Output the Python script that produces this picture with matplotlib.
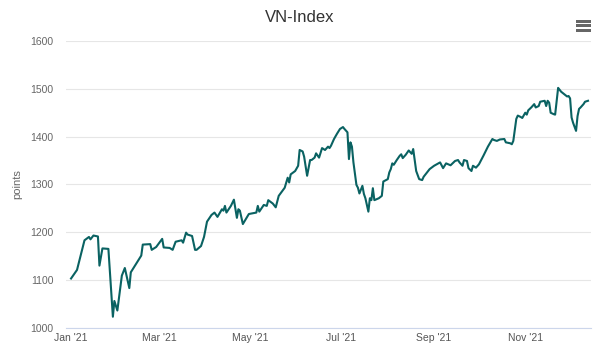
import matplotlib.pyplot as plt
import matplotlib.dates as mdates
import pandas as pd
from matplotlib.patches import Rectangle

plt.rcParams['font.family'] = ['Liberation Sans', 'DejaVu Sans']

# VN-Index closes (approximate)
dates = [
    "2021-01-01", "2021-01-05", "2021-01-10", "2021-01-13", "2021-01-14", "2021-01-16",
    "2021-01-19", "2021-01-20", "2021-01-22", "2021-01-26", "2021-01-29", "2021-01-30",
    "2021-02-01", "2021-02-04", "2021-02-06", "2021-02-09", "2021-02-10", "2021-02-17",
    "2021-02-18", "2021-02-23", "2021-02-24", "2021-02-27", "2021-03-03", "2021-03-04",
    "2021-03-08", "2021-03-10", "2021-03-12", "2021-03-16", "2021-03-17", "2021-03-19",
    "2021-03-20", "2021-03-23", "2021-03-25", "2021-03-26", "2021-03-29", "2021-03-31",
    "2021-04-02", "2021-04-05", "2021-04-07", "2021-04-09", "2021-04-12", "2021-04-13",
    "2021-04-14", "2021-04-15", "2021-04-18", "2021-04-20", "2021-04-22", "2021-04-23",
    "2021-04-24", "2021-04-26", "2021-04-30", "2021-05-05", "2021-05-06", "2021-05-07",
    "2021-05-10", "2021-05-12", "2021-05-13", "2021-05-16", "2021-05-18", "2021-05-20",
    "2021-05-24", "2021-05-26", "2021-05-27", "2021-05-28", "2021-05-31", "2021-06-02",
    "2021-06-03", "2021-06-05", "2021-06-06", "2021-06-08", "2021-06-10", "2021-06-11",
    "2021-06-13", "2021-06-14", "2021-06-16", "2021-06-18", "2021-06-20", "2021-06-22",
    "2021-06-23", "2021-06-24", "2021-06-26", "2021-06-28", "2021-06-29", "2021-06-30",
    "2021-07-02", "2021-07-03", "2021-07-05", "2021-07-06", "2021-07-07", "2021-07-08",
    "2021-07-09", "2021-07-11", "2021-07-12", "2021-07-13", "2021-07-15", "2021-07-16",
    "2021-07-17", "2021-07-19", "2021-07-20", "2021-07-21", "2021-07-22", "2021-07-23",
    "2021-07-26", "2021-07-28", "2021-07-29", "2021-08-01", "2021-08-02", "2021-08-03",
    "2021-08-04", "2021-08-05", "2021-08-07", "2021-08-09", "2021-08-10", "2021-08-11",
    "2021-08-13", "2021-08-15", "2021-08-17", "2021-08-18", "2021-08-20", "2021-08-22",
    "2021-08-24", "2021-08-25", "2021-08-29", "2021-09-01", "2021-09-05", "2021-09-07",
    "2021-09-09", "2021-09-12", "2021-09-15", "2021-09-17", "2021-09-18", "2021-09-20",
    "2021-09-21", "2021-09-23", "2021-09-24", "2021-09-26", "2021-09-27", "2021-09-29",
    "2021-10-01", "2021-10-04", "2021-10-07", "2021-10-10", "2021-10-11", "2021-10-13",
    "2021-10-15", "2021-10-18", "2021-10-19", "2021-10-22", "2021-10-23", "2021-10-24",
    "2021-10-26", "2021-10-27", "2021-10-29", "2021-10-30", "2021-11-01", "2021-11-02",
    "2021-11-03", "2021-11-05", "2021-11-07", "2021-11-08", "2021-11-10", "2021-11-11",
    "2021-11-14", "2021-11-15", "2021-11-16", "2021-11-17", "2021-11-18", "2021-11-20",
    "2021-11-21", "2021-11-23", "2021-11-25", "2021-11-27", "2021-11-29", "2021-11-30",
    "2021-12-01", "2021-12-02", "2021-12-03", "2021-12-05", "2021-12-06", "2021-12-07",
    "2021-12-08", "2021-12-10", "2021-12-11", "2021-12-13",
]
values = [
    1103, 1121, 1183, 1190, 1185, 1193,
    1191, 1130, 1166, 1165, 1023, 1056,
    1036, 1109, 1125, 1083, 1116, 1151,
    1174, 1175, 1163, 1169, 1186, 1168,
    1167, 1163, 1180, 1183, 1178, 1199,
    1195, 1192, 1163, 1163, 1171, 1190,
    1222, 1236, 1241, 1232, 1248, 1245,
    1255, 1241, 1255, 1268, 1230, 1248,
    1245, 1217, 1238, 1241, 1255, 1243,
    1257, 1255, 1267, 1260, 1252, 1276,
    1293, 1314, 1304, 1321, 1328, 1339,
    1372, 1369, 1358, 1318, 1351, 1351,
    1356, 1365, 1356, 1376, 1372, 1379,
    1376, 1381, 1395, 1406, 1411, 1416,
    1420, 1416, 1409, 1353, 1388, 1379,
    1346, 1299, 1293, 1281, 1297, 1280,
    1271, 1243, 1271, 1267, 1292, 1267,
    1271, 1276, 1306, 1311, 1325, 1332,
    1344, 1341, 1351, 1360, 1363, 1355,
    1362, 1371, 1364, 1374, 1328, 1311,
    1309, 1316, 1332, 1339, 1346, 1334,
    1344, 1340, 1349, 1351, 1346, 1339,
    1351, 1349, 1334, 1328, 1339, 1335,
    1342, 1360, 1379, 1395, 1393, 1391,
    1394, 1395, 1388, 1386, 1384, 1391,
    1437, 1444, 1441, 1439, 1450, 1446,
    1455, 1461, 1468, 1461, 1464, 1473,
    1475, 1464, 1475, 1471, 1450, 1447,
    1446, 1502, 1494, 1489, 1484, 1485,
    1480, 1440, 1429, 1412, 1443, 1458,
    1461, 1468, 1473, 1475,
]
x_ticks = ["2021-01-01", "2021-03-01", "2021-05-01", "2021-07-01", "2021-09-01", "2021-11-01"]
x_labels = ["Jan '21", "Mar '21", "May '21", "Jul '21", "Sep '21", "Nov '21"]
y_ticks = [1000, 1100, 1200, 1300, 1400, 1500, 1600]

df = pd.DataFrame({"date": pd.to_datetime(dates), "value": values})

fig = plt.figure(figsize=(6, 3.57), dpi=100)
ax = fig.add_axes([0.11, 0.082, 0.875, 0.803])

ax.plot(df["date"], df["value"], color='#0a6262', linewidth=1.5, solid_joinstyle='round')

ax.set_ylim(1000, 1600)
ax.set_yticks(y_ticks)
ax.set_xlim(pd.Timestamp("2020-12-28 15:00"), pd.Timestamp("2021-12-15"))
ax.set_xticks(pd.to_datetime(x_ticks))
ax.set_xticklabels(x_labels)

# Highcharts-ish styling
ax.grid(axis='y', color='#e6e6e6', linewidth=0.8)
ax.set_axisbelow(True)
for side in ['top', 'right', 'left']:
    ax.spines[side].set_visible(False)
ax.spines['bottom'].set_color('#ccd6eb')
ax.spines['bottom'].set_linewidth(0.8)
ax.tick_params(axis='y', length=0, pad=9, labelsize=7.5, labelcolor='#666666')
ax.tick_params(axis='x', which='major', length=0, pad=4, labelsize=7.5, labelcolor='#555555')
ax.tick_params(axis='x', which='minor', length=5, color='#ccd6eb', width=0.8)
ax.xaxis.set_minor_locator(mdates.MonthLocator(bymonth=[1, 3, 5, 7, 9, 11]))

ax.set_ylabel('points', fontsize=8, color='#666666', labelpad=6)

fig.text(0.5, 0.952, 'VN-Index', ha='center', va='center', fontsize=12, color='#333333')

# context menu icon: three bars
for yy in [19.5, 24, 28.5]:
    fig.patches.append(Rectangle((576 / 600, 1 - (yy + 3) / 357), 15 / 600, 3 / 357,
                                 transform=fig.transFigure, facecolor='#666666',
                                 linewidth=0))

fig.savefig('out.png', dpi=100)
